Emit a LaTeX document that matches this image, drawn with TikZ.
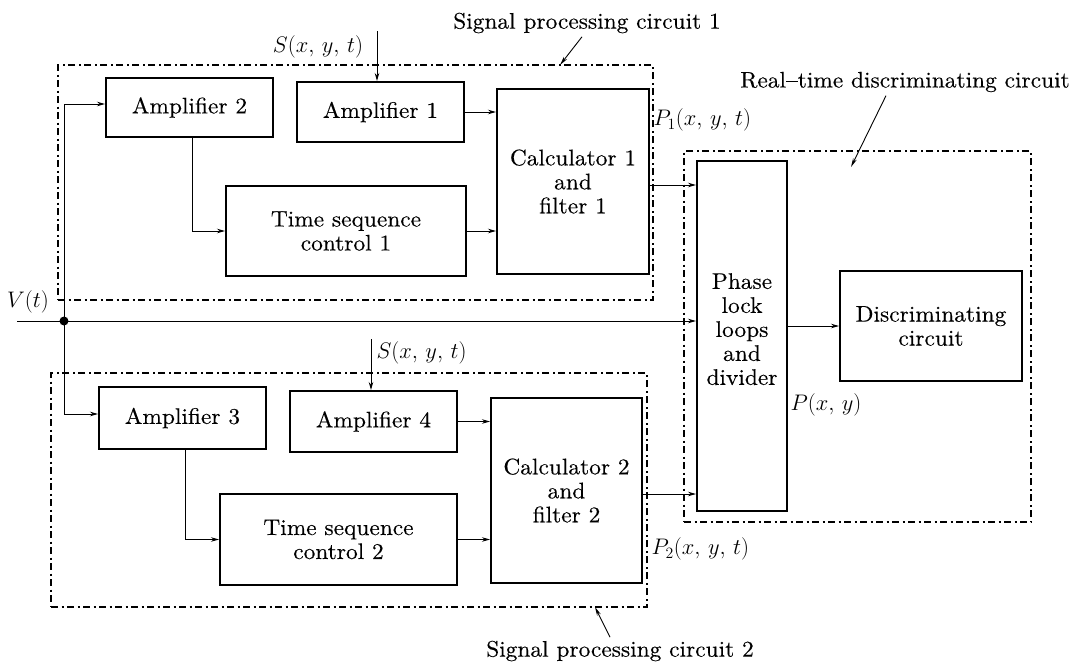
\RequirePackage{fix-cm}
\documentclass[tikz,border=0pt]{standalone}
\usepackage{fontspec}
\setmainfont{lmroman10-regular}[Extension=.otf,FakeStretch=1.04,FakeBold=0.3]
\usetikzlibrary{arrows.meta}

\begin{document}
\begin{tikzpicture}[x=1pt,y=-1pt,
    font=\fontsize{22.5}{24}\selectfont,
    block/.style={draw,line width=2pt,inner sep=0pt,align=center},
    frame/.style={draw,line width=2pt,inner sep=0pt,dash pattern=on 7pt off 3.5pt on 2pt off 3.5pt},
    sig/.style={line width=0.9pt,-{Stealth[length=8pt,width=4.5pt]}},
    pointer/.style={line width=0.9pt,-{Stealth[length=9pt,width=4pt]}}]
    \useasboundingbox (0,0) rectangle (1072,662);

    % Frames
    \node[frame,minimum width=595,minimum height=235] (spc1) at (355.5,182.5) {};
    \node[frame,minimum width=596,minimum height=234] (spc2) at (349,490) {};
    \node[frame,minimum width=347,minimum height=371] (rtd) at (857.5,336.5) {};

    % Blocks
    \node[block,minimum width=167,minimum height=59] (amp2) at (189.5,107.5) {Amplifier 2};
    \node[block,minimum width=167,minimum height=60] (amp1) at (380.5,112) {Amplifier 1};
    \node[block,minimum width=240,minimum height=90] (ts1) at (346,231) {Time sequence\\control 1};
    \node[block,minimum width=152,minimum height=185] (calc1) at (573,181.5) {Calculator 1\\and\\filter 1};
    \node[block,minimum width=167,minimum height=62] (amp3) at (182.5,418) {Amplifier 3};
    \node[block,minimum width=167,minimum height=61] (amp4) at (373.5,421.5) {Amplifier 4};
    \node[block,minimum width=237,minimum height=91] (ts2) at (338.5,539.5) {Time sequence\\control 2};
    \node[block,minimum width=151,minimum height=185] (calc2) at (566.5,490.5) {Calculator 2\\and\\filter 2};
    \node[block,minimum width=90,minimum height=350] (pll) at (742,336) {Phase\\lock\\loops\\and\\divider\\[-10pt]};
    \node[block,minimum width=182,minimum height=110] (disc) at (931,326) {Discriminating\\circuit};

    % Labels
    \node (lab1) at (587,23) {Signal processing circuit 1};
    \node (lab2) at (620,651) {Signal processing circuit 2};
    \node (lab3) at (905,82) {Real--time discriminating circuit};
    \node (s1lab) at (318,47) {$S(x,\,y,\,t)$};
    \node[anchor=west] (s2lab) at (373,353) {$S(x,\,y,\,t)$};
    \node[anchor=west] (p1lab) at (650,120) {$P_1(x,\,y,\,t)$};
    \node[anchor=west] (p2lab) at (648,549) {$P_2(x,\,y,\,t)$};
    \node[anchor=west] (plab) at (787,405) {$P(x,\,y)$};
    \node (vlab) at (28,302) {$V(t)$};

    % Pointers to the frames
    \coordinate (tip1) at (560,65);
    \coordinate (tip2) at (595,607);
    \coordinate (tip3) at (851,167);
    \draw[pointer] ([xshift=-5pt]lab1.south) -- (tip1);
    \draw[pointer] ([xshift=-10pt]lab2.north) -- (tip2);
    \draw[pointer] ([xshift=-19pt]lab3.south) -- (tip3);

    % Signals
    \coordinate (vin) at (17,321);
    \coordinate (junc) at (64,321);
    \coordinate (s1) at (377,31);
    \coordinate (s2) at (371,339);
    \draw[sig] (vin) -- (vin -| pll.west);
    \fill (junc) circle (4.5);
    \draw[sig] (junc) |- ([yshift=3.5pt]amp2.west);
    \draw[sig] (junc) |- ([yshift=4pt]amp3.west);
    \draw[sig] (s1) -- (s1 |- amp1.north);
    \draw[sig] (s2) -- (s2 |- amp4.north);
    \draw[sig] ([xshift=2.5pt]amp2.south) |- (ts1.west);
    \draw[sig] ([xshift=2.5pt]amp3.south) |- (ts2.west);
    \draw[sig] (amp1.east) -- (amp1.east -| calc1.west);
    \draw[sig] (ts1.east) -- (ts1.east -| calc1.west);
    \draw[sig] (amp4.east) -- (amp4.east -| calc2.west);
    \draw[sig] (ts2.east) -- (ts2.east -| calc2.west);
    \draw[sig] ([yshift=-3.5pt]calc1.east) -- ([yshift=-3.5pt]calc1.east -| pll.west);
    \draw[sig] ([yshift=-3.5pt]calc2.east) -- ([yshift=-3.5pt]calc2.east -| pll.west);
    \draw[sig] (pll.east |- disc.west) -- (disc.west);
\end{tikzpicture}
\end{document}
